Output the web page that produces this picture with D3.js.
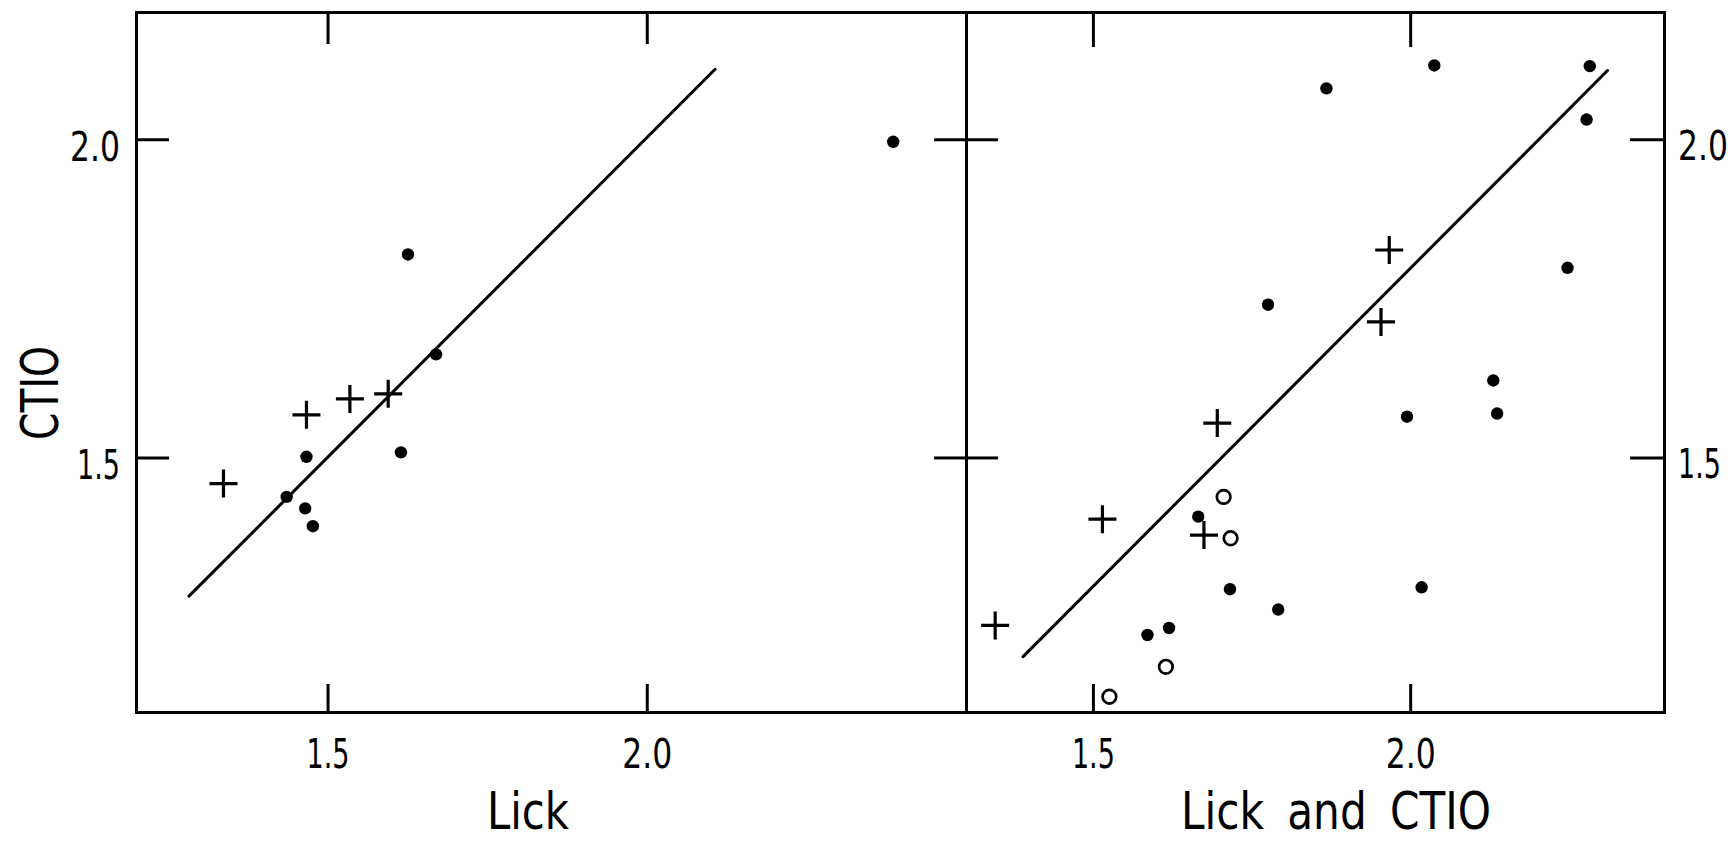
<!DOCTYPE html>
<html>
<head>
<meta charset="utf-8">
<script src="https://cdn.jsdelivr.net/npm/d3@7"></script>
<style>
  html, body { margin: 0; background: #fff; }
  svg { display: block; }
  text { font-family: "DejaVu Sans", "Liberation Sans", sans-serif; fill: #000; }
</style>
</head>
<body>
<svg id="chart" width="1733" height="842"></svg>
<script>
// ---- data: [Lick value, CTIO value] ----
// panel 1: Lick only
const lickDots = [[1.626, 1.819], [1.670, 1.662], [1.467, 1.501], [1.436, 1.438],
                  [1.615, 1.508], [1.465, 1.420], [1.477, 1.392], [2.386, 1.996]];
const lickPlus = [[1.595, 1.600], [1.535, 1.592], [1.467, 1.567], [1.337, 1.459]];
const lickFit  = [[1.283, 1.282], [2.107, 2.110]];

// panel 2: Lick and CTIO
const combDots = [[1.868, 2.080], [2.038, 2.116], [2.283, 2.115], [2.278, 2.031],
                  [2.248, 1.798], [1.776, 1.740], [2.131, 1.621], [2.137, 1.569],
                  [1.995, 1.564], [1.666, 1.407], [1.716, 1.293], [1.792, 1.261],
                  [1.586, 1.221], [1.620, 1.232], [2.018, 1.296]];
const combPlus = [[1.967, 1.826], [1.954, 1.713], [1.696, 1.554], [1.515, 1.403],
                  [1.346, 1.236], [1.675, 1.378]];
const combOpen = [[1.706, 1.438], [1.717, 1.373], [1.615, 1.171], [1.526, 1.124]];
const combFit  = [[1.390, 1.187], [2.311, 2.108]];

const xTicks = [1.5, 2.0];
const yTicks = [1.5, 2.0];
const xTitles = ["Lick", "Lick and CTIO"];
const yTitle = "CTIO";

// ---- layout ----
const svg = d3.select("#chart");
const plotTop = 12, plotBottom = 712;
const leftX0 = 136, divX = 966, rightX1 = 1664;

const y = d3.scaleLinear().domain([1.1, 2.2]).range([plotBottom, plotTop]);
const xL = d3.scaleLinear().domain([1.2, 2.5]).range([leftX0, divX]);
const xR = d3.scaleLinear().domain([1.3, 2.4]).range([divX, rightX1]);

const tickFont = 41, titleFont = 52;
const tickWidth = { "1.5": 43, "2.0": 50 };
const fmt = d3.format(".1f");

// narrow the lettering horizontally to a set width, keeping its anchor point
function squeeze(sel, widthOf, prefix) {
  sel.each(function () {
    const t = d3.select(this);
    const k = widthOf(this.textContent) / this.getComputedTextLength();
    const x0 = +t.attr("x") || 0;
    t.attr("x", 0).attr("transform", `${prefix || ""} translate(${x0},0) scale(${k},1)`);
  });
}

function styleAxis(g) {
  g.select(".domain").attr("stroke", "#000").attr("stroke-width", 3).attr("stroke-linecap", "square");
  g.selectAll(".tick line").attr("stroke", "#000").attr("stroke-width", 3);
  g.selectAll(".tick text").attr("font-size", tickFont).attr("font-family", "DejaVu Sans, sans-serif");
}

function xFrame(x, topTick, bottomTick) {
  // bottom axis with labels
  const gb = svg.append("g").attr("transform", `translate(0,${plotBottom})`)
    .call(d3.axisBottom(x).tickValues(xTicks).tickSizeInner(-bottomTick).tickSizeOuter(0)
      .tickPadding(27).tickFormat(fmt));
  styleAxis(gb);
  squeeze(gb.selectAll(".tick text"), t => tickWidth[t]);

  // top axis, ticks only
  const gt = svg.append("g").attr("transform", `translate(0,${plotTop})`)
    .call(d3.axisTop(x).tickValues(xTicks).tickSizeInner(-topTick).tickSizeOuter(0).tickFormat(""));
  styleAxis(gt);
}

xFrame(xL, 32, 28);
xFrame(xR, 35, 28);

// left y axis with labels
const gl = svg.append("g").attr("transform", `translate(${leftX0},0)`)
  .call(d3.axisLeft(y).tickValues(yTicks).tickSizeInner(-33).tickSizeOuter(0).tickPadding(16).tickFormat(fmt));
styleAxis(gl);
gl.selectAll(".tick text").attr("dy", "0.52em");
squeeze(gl.selectAll(".tick text"), t => tickWidth[t]);

// shared divider: ticks cross in both directions
const gd1 = svg.append("g").attr("transform", `translate(${divX},0)`)
  .call(d3.axisRight(y).tickValues(yTicks).tickSizeInner(32).tickSizeOuter(0).tickFormat(""));
styleAxis(gd1);
const gd2 = svg.append("g").attr("transform", `translate(${divX},0)`)
  .call(d3.axisLeft(y).tickValues(yTicks).tickSizeInner(32).tickSizeOuter(0).tickFormat(""));
styleAxis(gd2);

// right y axis with labels
const gr = svg.append("g").attr("transform", `translate(${rightX1},0)`)
  .call(d3.axisRight(y).tickValues(yTicks).tickSizeInner(-34).tickSizeOuter(0).tickPadding(14).tickFormat(fmt));
styleAxis(gr);
gr.selectAll(".tick text").attr("dy", "0.5em");
squeeze(gr.selectAll(".tick text"), t => tickWidth[t]);

// ---- marks ----
function drawMarks(x, dots, plus, open, fit) {
  const g = svg.append("g");
  g.append("line")
    .attr("x1", x(fit[0][0])).attr("y1", y(fit[0][1]))
    .attr("x2", x(fit[1][0])).attr("y2", y(fit[1][1]))
    .attr("stroke", "#000").attr("stroke-width", 3).attr("stroke-linecap", "round");

  g.selectAll("circle.dot").data(dots).join("circle").attr("class", "dot")
    .attr("cx", d => x(d[0])).attr("cy", d => y(d[1])).attr("r", 6.2).attr("fill", "#000");

  g.selectAll("circle.open").data(open).join("circle").attr("class", "open")
    .attr("cx", d => x(d[0])).attr("cy", d => y(d[1])).attr("r", 6.8)
    .attr("fill", "none").attr("stroke", "#000").attr("stroke-width", 2.7);

  const arm = 14;
  g.selectAll("path.plus").data(plus).join("path").attr("class", "plus")
    .attr("d", d => {
      const cx = x(d[0]), cy = y(d[1]);
      return `M${cx - arm},${cy}H${cx + arm}M${cx},${cy - arm}V${cy + arm}`;
    })
    .attr("fill", "none").attr("stroke", "#000").attr("stroke-width", 3.2);
}

drawMarks(xL, lickDots, lickPlus, [], lickFit);
drawMarks(xR, combDots, combPlus, combOpen, combFit);

// ---- titles ----
const titleWidth = { "Lick": 82, "Lick and CTIO": 310, "CTIO": 94 };

svg.append("text").attr("text-anchor", "middle")
  .attr("font-size", titleFont).text(xTitles[0])
  .call(s => squeeze(s, t => titleWidth[t], "translate(528,829)"));

svg.append("text").attr("text-anchor", "middle")
  .attr("font-size", titleFont).attr("word-spacing", 12).text(xTitles[1])
  .call(s => squeeze(s, t => titleWidth[t], "translate(1336,829)"));

svg.append("text")
  .attr("text-anchor", "middle").attr("font-size", titleFont).text(yTitle)
  .call(s => squeeze(s, t => titleWidth[t], "translate(58,393) rotate(-90)"));
</script>
</body>
</html>
